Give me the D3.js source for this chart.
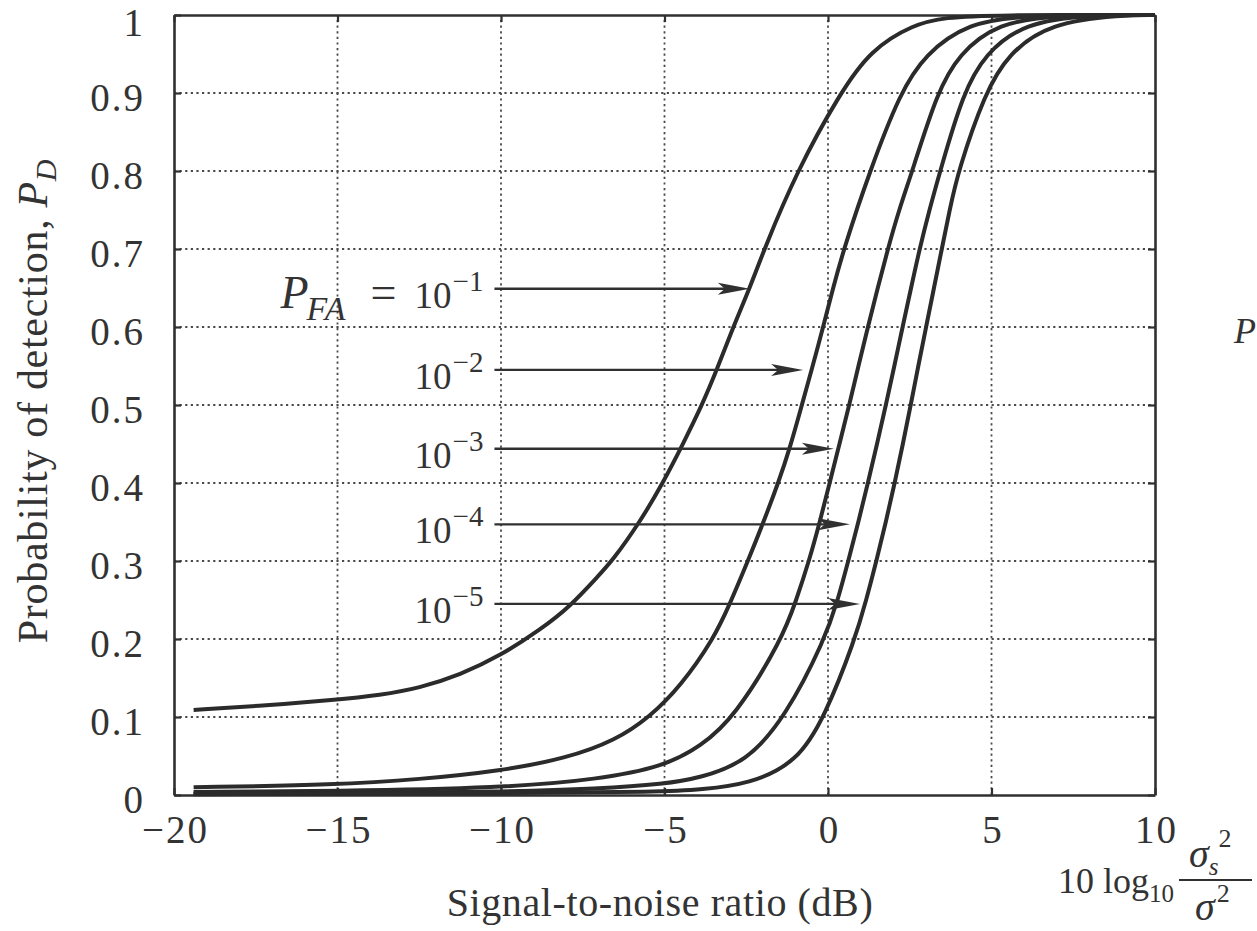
<!DOCTYPE html>
<html>
<head>
<meta charset="utf-8">
<script src="https://cdn.jsdelivr.net/npm/d3@7"></script>
<style>
  html, body { margin: 0; padding: 0; background: #fff; }
  svg { display: block; }
  text { font-family: "Liberation Serif", "Times New Roman", serif; fill: #333; }
</style>
</head>
<body>
<svg id="chart" width="1257" height="931"></svg>
<script>
// ---------- data ----------
const xTicks = [-20, -15, -10, -5, 0, 5, 10];
const xTickLabels = ["\u221220", "\u221215", "\u221210", "\u22125", "0", "5", "10"];
const yTicks = [0, 0.1, 0.2, 0.3, 0.4, 0.5, 0.6, 0.7, 0.8, 0.9, 1];
const yTickLabels = ["0", "0.1", "0.2", "0.3", "0.4", "0.5", "0.6", "0.7", "0.8", "0.9", "1"];

const pfaExponents = [-1, -2, -3, -4, -5];

// [SNR (dB), P_D]
const curvePFA1 = [[-19.4,0.109],[-17.5,0.114],[-15,0.122],[-13.7,0.128],[-12.5,0.137],[-11.25,0.154],[-10,0.179],[-8.8,0.212],[-7.9,0.241],[-7.0,0.282],[-6.6,0.3],[-5.75,0.35],[-5.05,0.4],[-4.46,0.448],[-3.85,0.5],[-3.4,0.545],[-2.9,0.6],[-2.4,0.649],[-1.95,0.7],[-0.95,0.8],[0.37,0.9],[1.3,0.955],[2.6,0.988],[3.6,0.997],[5,1],[10,1]];
const curvePFA2 = [[-19.4,0.01],[-15,0.013],[-12.5,0.02],[-10,0.031],[-8,0.047],[-6.5,0.07],[-5.45,0.1],[-4.5,0.14],[-3.5,0.2],[-3.0,0.245],[-2.45,0.3],[-2.0,0.347],[-1.52,0.4],[-1.15,0.447],[-0.8,0.5],[-0.48,0.548],[-0.15,0.6],[0.15,0.649],[0.48,0.7],[1.28,0.8],[2.2,0.9],[2.97,0.95],[4.3,0.99],[6,1],[10,1]];
const curvePFA3 = [[-19.4,0.004],[-15,0.005],[-10,0.009],[-7,0.02],[-5,0.037],[-3.9,0.062],[-2.85,0.1],[-1.4,0.2],[-0.97,0.25],[-0.58,0.3],[-0.25,0.35],[0.05,0.4],[0.35,0.45],[0.65,0.5],[0.93,0.55],[1.22,0.6],[1.52,0.65],[1.83,0.7],[2.17,0.75],[2.58,0.8],[3.33,0.9],[4.0,0.95],[5.2,0.99],[7,1],[10,1]];
const curvePFA4 = [[-19.4,0.002],[-15,0.002],[-10,0.004],[-7,0.008],[-5,0.014],[-3.9,0.022],[-2.5,0.042],[-1.3,0.1],[-0.09,0.2],[0.3,0.25],[0.62,0.3],[0.93,0.35],[1.22,0.4],[1.5,0.45],[1.77,0.5],[2.03,0.55],[2.28,0.6],[2.54,0.65],[2.8,0.7],[3.1,0.75],[3.43,0.8],[4.13,0.9],[4.8,0.95],[6,0.99],[8,1],[10,1]];
const curvePFA5 = [[-19.4,0.001],[-10,0.002],[-5,0.004],[-3.9,0.007],[-2.4,0.014],[-0.95,0.042],[-0.1,0.1],[0.83,0.2],[1.17,0.25],[1.48,0.3],[1.77,0.35],[2.04,0.4],[2.29,0.45],[2.53,0.5],[2.76,0.55],[3.0,0.6],[3.24,0.65],[3.48,0.7],[3.72,0.75],[3.98,0.8],[4.8,0.9],[5.5,0.95],[6.8,0.99],[9,1],[10,1]];
const curves = [curvePFA1, curvePFA2, curvePFA3, curvePFA4, curvePFA5];

// annotation arrows: P_D level, start SNR, tip SNR
const arrowLevels = [0.649, 0.545, 0.444, 0.347, 0.245];
const arrowStartDb = [-10.2, -10.2, -10.2, -10.2, -10.2];
const arrowTipDb = [-2.39, -0.76, 0.18, 0.67, 0.98];

// ---------- layout ----------
const svg = d3.select("#chart");
const mLeft = 174, mRight = 1155, mTop = 15, mBottom = 795;
const x = d3.scaleLinear().domain([-20, 10]).range([mLeft, mRight]);
const y = d3.scaleLinear().domain([0, 1]).range([mBottom, mTop]);
const ink = "#303030";
const serif = '"Liberation Serif", "Times New Roman", serif';

// grid lines (dotted)
const grid = svg.append("g");
grid.selectAll("line.gx").data(xTicks.slice(1, -1)).join("line")
  .attr("x1", d => x(d)).attr("x2", d => x(d)).attr("y1", y(0)).attr("y2", y(1))
  .attr("stroke", "#4a4a4a").attr("stroke-width", 1.8).attr("stroke-dasharray", "2.2,3.4");
grid.selectAll("line.gy").data(yTicks.slice(1, -1)).join("line")
  .attr("x1", x(-20)).attr("x2", x(10)).attr("y1", d => y(d)).attr("y2", d => y(d))
  .attr("stroke", "#4a4a4a").attr("stroke-width", 1.8).attr("stroke-dasharray", "2.2,3.4");

// axes with inward ticks
const axB = svg.append("g").attr("transform", `translate(0,${mBottom})`)
  .call(d3.axisBottom(x).tickValues(xTicks).tickSizeInner(-7).tickSizeOuter(0).tickPadding(20)
    .tickFormat((d, i) => xTickLabels[i]));
const axT = svg.append("g").attr("transform", `translate(0,${mTop})`)
  .call(d3.axisTop(x).tickValues(xTicks).tickSizeInner(-7).tickSizeOuter(0).tickFormat(""));
const axL = svg.append("g").attr("transform", `translate(${mLeft},0)`)
  .call(d3.axisLeft(y).tickValues(yTicks).tickSizeInner(-7).tickSizeOuter(0).tickPadding(29)
    .tickFormat((d, i) => yTickLabels[i]));
const axR = svg.append("g").attr("transform", `translate(${mRight},0)`)
  .call(d3.axisRight(y).tickValues(yTicks).tickSizeInner(-7).tickSizeOuter(0).tickFormat(""));
[axB, axT, axL, axR].forEach(g => {
  g.select(".domain").attr("stroke", ink).attr("stroke-width", 2.6);
  g.selectAll(".tick line").attr("stroke", ink).attr("stroke-width", 2.2);
  g.selectAll(".tick text").attr("font-size", 39).attr("fill", "#333")
    .attr("letter-spacing", 2).style("font-family", serif);
});
axB.selectAll(".tick text").attr("dy", "0.71em").attr("dx", 1);
axL.selectAll(".tick text").attr("dy", d => d === 1 ? 20 : "0.44em");

// curves
const line = d3.line().x(d => x(d[0])).y(d => y(d[1])).curve(d3.curveBasis);
svg.append("g").selectAll("path").data(curves).join("path")
  .attr("d", line).attr("fill", "none").attr("stroke", "#2b2b2b")
  .attr("stroke-width", 4).attr("stroke-linejoin", "round").attr("stroke-linecap", "butt");

// arrows and P_FA labels
const arrows = svg.append("g");
arrowLevels.forEach((lv, i) => {
  const x0 = x(arrowStartDb[i]), x1 = x(arrowTipDb[i]), yy = y(lv);
  arrows.append("line").attr("x1", x0).attr("x2", x1 - 20).attr("y1", yy).attr("y2", yy)
    .attr("stroke", ink).attr("stroke-width", 2.4);
  arrows.append("path")
    .attr("d", `M${x1},${yy} L${x1 - 32},${yy - 6} L${x1 - 25},${yy} L${x1 - 32},${yy + 6} Z`)
    .attr("fill", ink);
  const t = arrows.append("text").attr("x", x0 - 11).attr("y", yy + 19)
    .attr("text-anchor", "end").attr("font-size", 37);
  t.append("tspan").text("10");
  t.append("tspan").attr("font-size", 29).attr("dx", 1).attr("dy", -17)
    .text("\u2212" + Math.abs(pfaExponents[i]));
  if (i === 0) {
    const p = arrows.append("text").attr("y", yy + 19);
    p.append("tspan").attr("x", x0 - 214).attr("font-style", "italic").attr("font-size", 46).text("P");
    p.append("tspan").attr("x", x0 - 188).attr("dy", 12).attr("font-style", "italic")
      .attr("font-size", 34).attr("letter-spacing", 2).text("FA");
    p.append("tspan").attr("x", x0 - 124).attr("dy", -12).attr("font-size", 46).text("=");
  }
});

// axis titles
svg.append("text").attr("x", 660).attr("y", 916).attr("text-anchor", "middle")
  .attr("font-size", 40).attr("letter-spacing", 0.6).text("Signal-to-noise ratio (dB)");

const yt = svg.append("text").attr("transform", "translate(47,401) rotate(-90)")
  .attr("text-anchor", "middle").attr("font-size", 42).attr("letter-spacing", 0.7);
yt.append("tspan").text("Probability of detection, ");
yt.append("tspan").attr("font-style", "italic").text("P");
yt.append("tspan").attr("font-style", "italic").attr("font-size", 30).attr("dy", 9).text("D");

// 10 log10 (sigma_s^2 / sigma^2)
const fr = svg.append("g");
const lg = fr.append("text").attr("x", 1058).attr("y", 893).attr("font-size", 36);
lg.append("tspan").text("10 log");
lg.append("tspan").attr("font-size", 25).attr("dy", 9).text("10");
fr.append("line").attr("x1", 1179).attr("x2", 1252).attr("y1", 880).attr("y2", 880)
  .attr("stroke", ink).attr("stroke-width", 2);
const num = fr.append("text").attr("x", 1189).attr("y", 867).attr("font-size", 40);
num.append("tspan").attr("font-style", "italic").text("\u03c3");
num.append("tspan").attr("font-style", "italic").attr("font-size", 25).attr("dy", 8).text("s");
num.append("tspan").attr("font-size", 26).attr("dx", 0).attr("dy", -28).text("2");
const den = fr.append("text").attr("x", 1195).attr("y", 920).attr("font-size", 40);
den.append("tspan").attr("font-style", "italic").text("\u03c3");
den.append("tspan").attr("font-size", 26).attr("dx", 2).attr("dy", -18).text("2");

// stray page text visible at right edge
svg.append("text").attr("x", 1234).attr("y", 343).attr("font-size", 36)
  .attr("font-style", "italic").text("P");
</script>
</body>
</html>
